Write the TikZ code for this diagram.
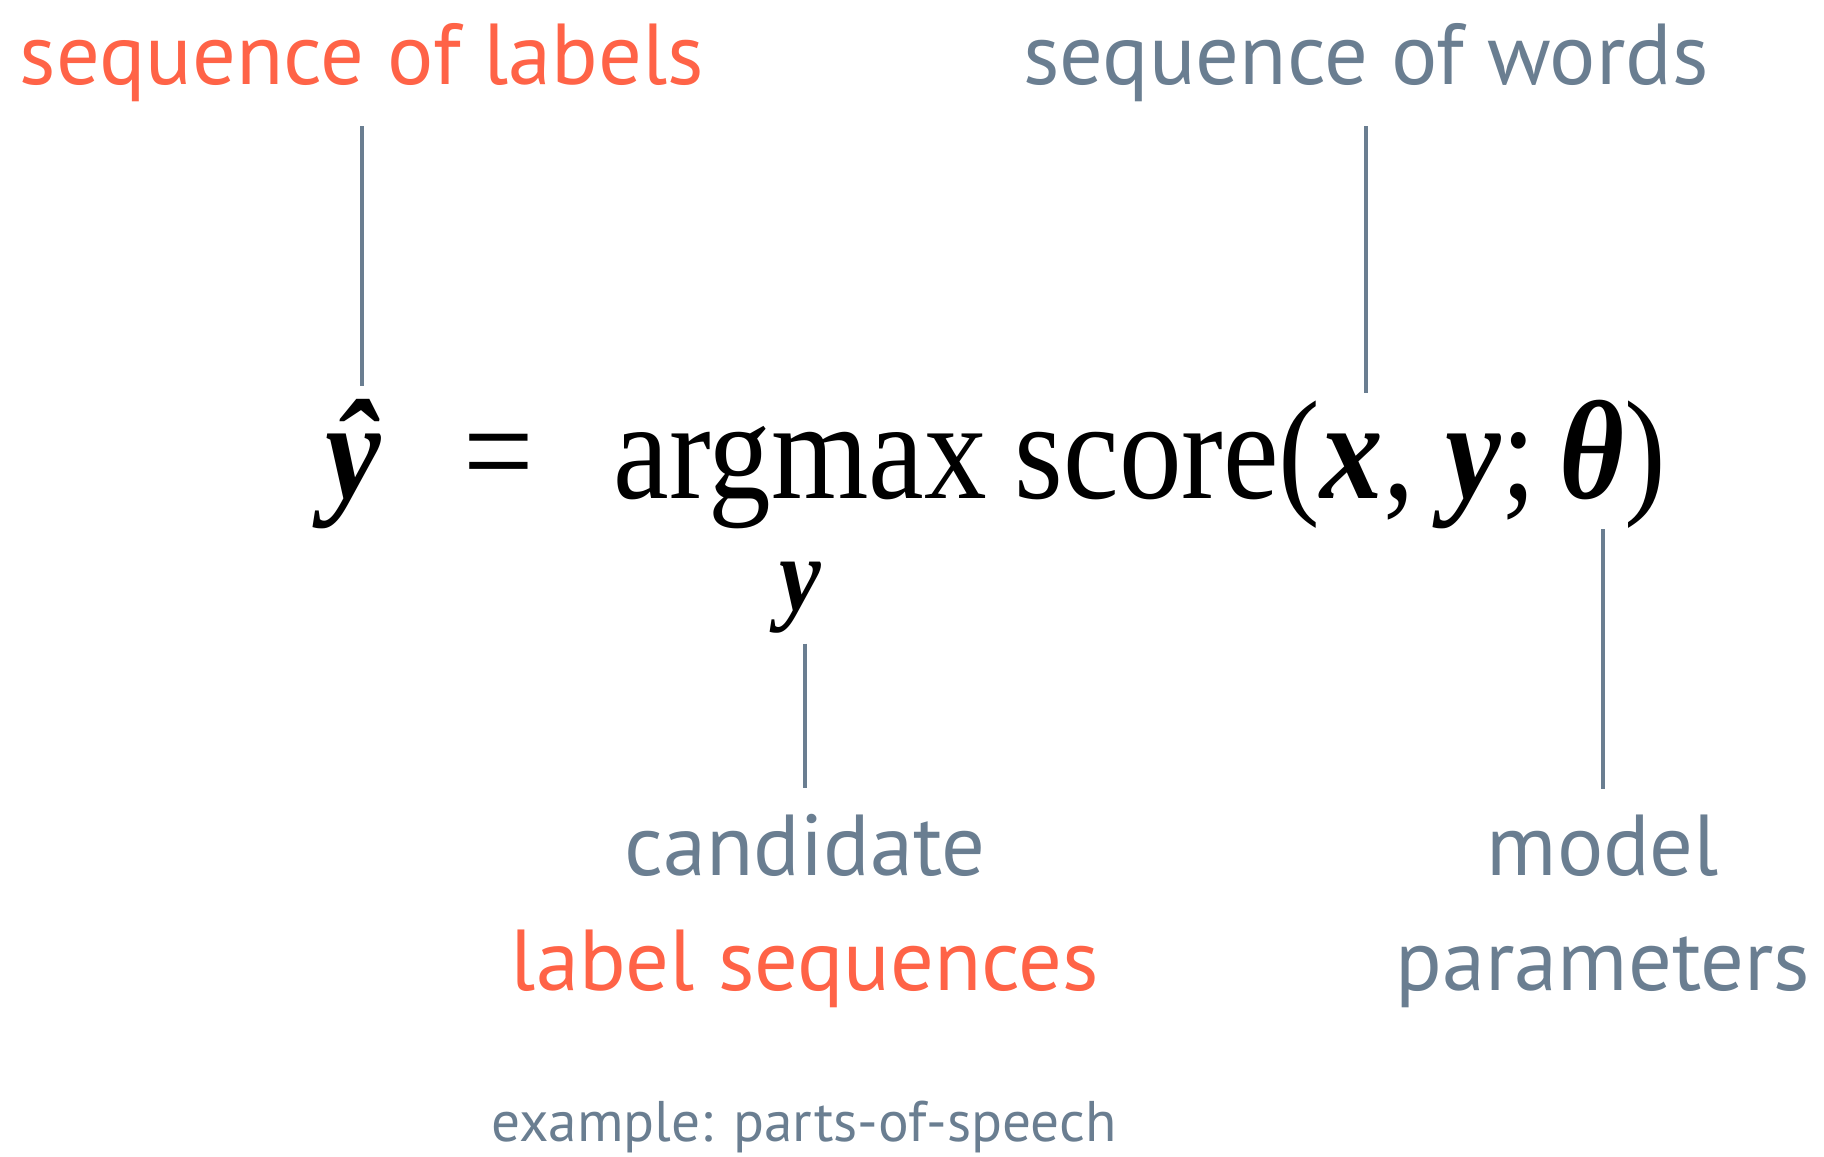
\documentclass[tikz,border=0pt]{standalone}
\usepackage{fontspec}
\setmainfont{Liberation Serif}
\newfontfamily\eqfont{Liberation Serif}[FakeStretch=0.89]
\newfontfamily\labelfont{PT Sans}
\usetikzlibrary{positioning,calc}
\definecolor{labelred}{RGB}{255,99,71}
\definecolor{wordgray}{RGB}{106,126,145}

\begin{document}
\begin{tikzpicture}[x=0.01cm,y=-0.01cm,
  tag/.style={font=\labelfont\fontsize{24.6}{30}\selectfont,inner sep=0pt,anchor=base},
  hot/.style={tag,text=labelred},
  cold/.style={tag,text=wordgray},
  lead/.style={draw=wordgray,line width=1pt},
  eq/.style={font=\eqfont\fontsize{40}{48}\selectfont,inner sep=0pt,anchor=base}]
  \useasboundingbox (0,0) rectangle (1824,1156);

  % what the parts mean
  \node[hot] (labs) at (362,84) {sequence of labels};
  \node[cold] (words) at (1366,84) {sequence of words};

  % the formula
  \node[eq] (yhat) at (353,498) {\bfseries\itshape ŷ};
  \node[eq] (eqs) at (499,498) {=};
  \node[eq] (amax) at (800,498) {argmax};
  \node[eq,anchor=base west] (score) at (1014,498)
    {score(\textbf{\textit{x}}, \textbf{\textit{y}};\,\textbf{\textit{θ}})};
  \node[eq,font=\eqfont\fontsize{30}{36}\selectfont] (ysub) at (800,610) {\bfseries\itshape y};

  \node[cold] (cand) at (805,875) {candidate};
  \node[hot] (lseq) at (805,990) {label sequences};
  \node[cold] (model) at (1603,875) {model};
  \node[cold] (params) at (1603,990) {parameters};
  \node[cold,font=\labelfont\fontsize{16.3}{20}\selectfont] (ex) at (804,1141) {example: parts-of-speech};

  \draw[lead,shorten <=0.24cm,shorten >=0.12cm] (labs.south) -- (labs.south |- yhat.north);
  \draw[lead,shorten <=0.24cm,shorten >=0.06cm] (words.south) -- (words.south |- score.north);
  \draw[lead,shorten <=0.1cm,shorten >=0.25cm] (ysub.south -| cand.north) -- (cand.north);
  \draw[lead,shorten >=0.25cm] (model.north |- score.south) -- (model.north);
\end{tikzpicture}
\end{document}
